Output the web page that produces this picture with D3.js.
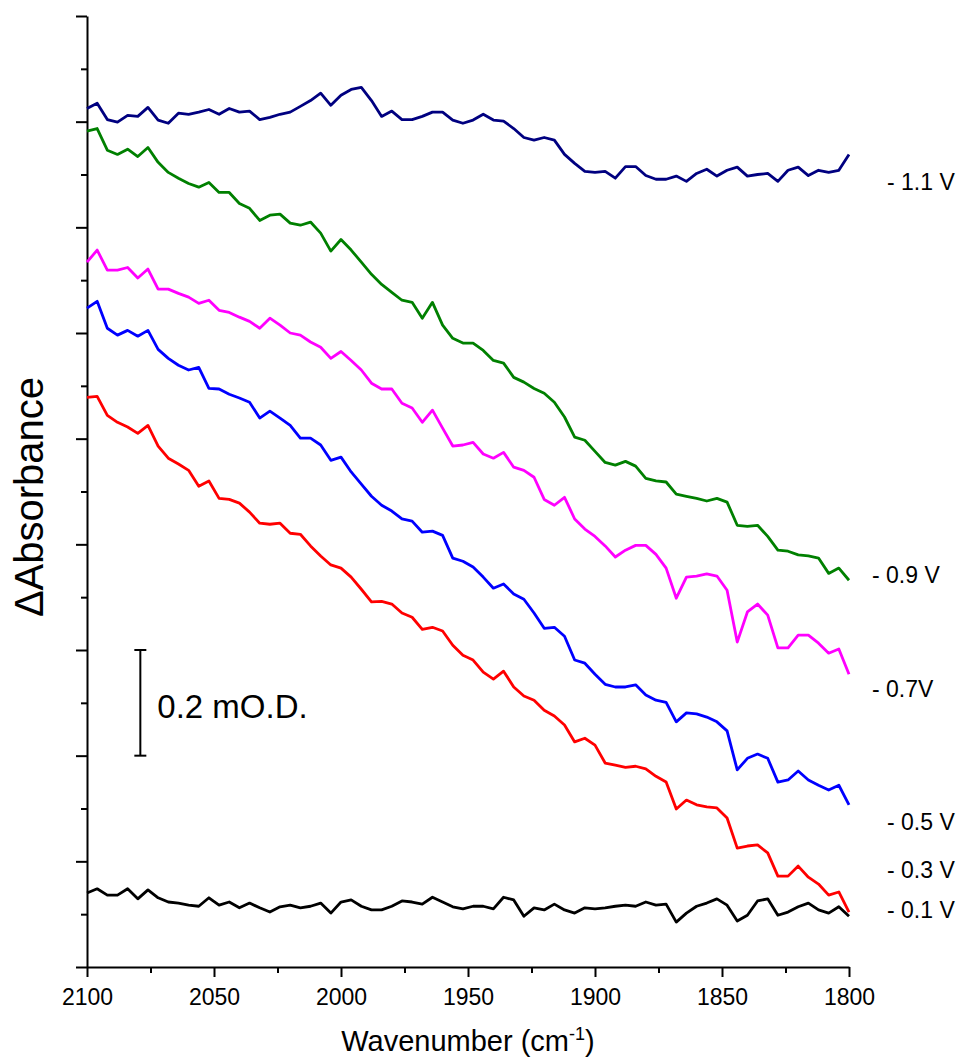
<!DOCTYPE html>
<html>
<head>
<meta charset="utf-8">
<script src="https://cdn.jsdelivr.net/npm/d3@7"></script>
<style>
  body { margin: 0; background: #fff; }
  svg text { font-family: "Liberation Sans", Arial, sans-serif; fill: #000; }
</style>
</head>
<body>
<div id="chart"></div>
<script>
// wavenumber grid (cm-1), read every 4 cm-1 from 2100 down to 1800
const wavenumbers = d3.range(2100, 1799, -4);

// ΔAbsorbance in µOD, traces stacked as in the figure
const v11 = [1625,1635,1604,1599,1612,1610,1627,1603,1597,1616,
  1614,1618,1623,1614,1625,1618,1620,1604,1608,1614,
  1618,1629,1640,1654,1631,1650,1661,1665,1640,1610,
  1620,1604,1604,1610,1618,1618,1603,1597,1603,1614,
  1603,1601,1587,1570,1565,1570,1565,1538,1521,1506,
  1504,1506,1493,1515,1515,1498,1491,1491,1497,1487,
  1502,1510,1497,1508,1514,1497,1500,1502,1487,1508,
  1514,1498,1508,1504,1508,1538];
const v09 = [1582,1587,1546,1538,1548,1534,1551,1523,1504,1493,
  1483,1476,1485,1466,1466,1445,1436,1413,1423,1425,
  1408,1404,1410,1389,1355,1377,1357,1334,1311,1292,
  1277,1262,1258,1228,1258,1215,1190,1181,1181,1167,
  1148,1143,1116,1107,1095,1086,1069,1041,1003,997,
  976,955,950,957,948,925,920,918,895,891,
  887,882,887,880,836,834,836,815,789,787,
  780,778,774,745,755,732];
const v07 = [1334,1357,1319,1319,1324,1304,1321,1283,1283,1275,
  1268,1256,1262,1243,1239,1230,1222,1209,1228,1215,
  1200,1196,1183,1173,1152,1165,1148,1130,1105,1094,
  1094,1067,1058,1031,1054,1020,986,988,993,971,
  963,974,946,940,927,885,874,889,848,829,
  815,797,776,789,798,798,781,755,698,738,
  740,744,740,713,615,672,687,666,604,604,
  628,628,613,594,602,554];
const v05 = [1247,1260,1209,1196,1205,1194,1205,1169,1152,1139,
  1130,1135,1095,1094,1084,1077,1069,1039,1052,1039,
  1025,1001,1001,988,959,965,937,914,891,874,
  863,848,844,823,825,817,774,768,757,738,
  717,725,706,696,670,641,643,626,581,575,
  554,535,530,530,534,515,505,501,464,481,
  479,473,464,447,373,395,403,395,350,354,
  371,354,344,335,344,307];
const v03 = [1078,1080,1044,1031,1022,1010,1025,986,963,952,
  940,910,920,887,885,878,861,840,838,840,
  821,819,797,778,761,755,738,715,691,692,
  687,670,662,639,643,636,609,590,581,558,
  545,560,530,513,505,486,475,458,426,433,
  420,386,382,378,380,375,361,350,299,316,
  307,303,301,282,225,229,231,216,172,172,
  191,170,157,136,142,104];
const v01 = [140,148,136,136,148,129,146,131,123,121,
  117,115,131,117,123,112,121,112,104,114,
  117,112,115,121,102,123,127,115,108,108,
  115,125,123,119,132,123,114,110,115,115,
  110,132,127,96,112,108,119,108,102,112,
  110,112,115,117,115,123,117,119,85,102,
  115,121,129,117,87,98,125,129,98,104,
  114,121,108,102,114,96];

const seriesNames = ['- 1.1 V', '- 0.9 V', '- 0.7V', '- 0.5 V', '- 0.3 V', '- 0.1 V'];
const seriesValues = [v11, v09, v07, v05, v03, v01];
const seriesColors = ['#000080', '#008000', '#ff00ff', '#0000ff', '#ff0000', '#000000'];
// where each potential label sits (µOD) and how far right of the axis end
const labelLevels = [1470, 727, 511, 259, 168, 93];
const labelShift = [38, 23, 23, 38, 38, 38];

// 0.2 mOD scale bar
const scaleBar = { wavenumber: 2079, from: 400, to: 600, text: '0.2 mO.D.' };

const xTicks = [2100, 2050, 2000, 1950, 1900, 1850, 1800];

const width = 958, height = 1057;
const margin = { left: 87, right: 109, top: 16, bottom: 90 };

const svg = d3.select('#chart').append('svg')
  .attr('width', width)
  .attr('height', height);

const x = d3.scaleLinear()
  .domain([2100, 1800])
  .range([margin.left, width - margin.right]);
const y = d3.scaleLinear()
  .domain([0, 1800])
  .range([height - margin.bottom, margin.top]);

// y axis: major every 200, minor every 100, no labels
svg.append('g')
  .attr('transform', 'translate(' + margin.left + ',0)')
  .call(d3.axisLeft(y).tickValues(d3.range(100, 1800, 200)).tickSize(6).tickSizeOuter(0).tickFormat(''))
  .call(g => g.select('.domain').remove());
svg.append('g')
  .attr('transform', 'translate(' + margin.left + ',0)')
  .call(d3.axisLeft(y).tickValues(d3.range(0, 1801, 200)).tickSize(11).tickSizeOuter(0).tickFormat(''));

// x axis: labels every 50, minor ticks every 25
svg.append('g')
  .attr('transform', 'translate(0,' + y(0) + ')')
  .call(d3.axisBottom(x).tickValues([2075, 2025, 1975, 1925, 1875, 1825]).tickSize(6).tickSizeOuter(0).tickFormat(''))
  .call(g => g.select('.domain').remove());
const xAxis = svg.append('g')
  .attr('transform', 'translate(0,' + y(0) + ')')
  .call(d3.axisBottom(x).tickValues(xTicks).tickSize(10).tickSizeOuter(0).tickPadding(12).tickFormat(d3.format('d')));
xAxis.selectAll('text').style('font-size', '23px');

svg.selectAll('.domain, .tick line')
  .attr('stroke', '#000')
  .attr('stroke-width', 2);

// traces
const line = d3.line()
  .x((d, i) => x(wavenumbers[i]))
  .y(d => y(d));

svg.selectAll('.trace')
  .data(seriesValues)
  .enter()
  .append('path')
  .attr('class', 'trace')
  .attr('d', d => line(d))
  .attr('fill', 'none')
  .attr('stroke', (d, i) => seriesColors[i])
  .attr('stroke-width', 2.8)
  .attr('stroke-linejoin', 'round');

// potential labels at the right end
svg.selectAll('.vlabel')
  .data(seriesNames)
  .enter()
  .append('text')
  .attr('class', 'vlabel')
  .attr('x', (d, i) => x(1800) + labelShift[i])
  .attr('y', (d, i) => y(labelLevels[i]))
  .style('font-size', '23px')
  .text(d => d);

// scale bar
const sbx = x(scaleBar.wavenumber);
svg.append('line')
  .attr('x1', sbx).attr('x2', sbx)
  .attr('y1', y(scaleBar.from)).attr('y2', y(scaleBar.to))
  .attr('stroke', '#000').attr('stroke-width', 2);
[scaleBar.from, scaleBar.to].forEach(v => {
  svg.append('line')
    .attr('x1', sbx - 6).attr('x2', sbx + 6)
    .attr('y1', y(v)).attr('y2', y(v))
    .attr('stroke', '#000').attr('stroke-width', 2);
});
svg.append('text')
  .attr('x', sbx + 17)
  .attr('y', y((scaleBar.from + scaleBar.to) / 2) + 15)
  .style('font-size', '33px')
  .text(scaleBar.text);

// axis titles
const xTitle = svg.append('text')
  .attr('x', (x(2100) + x(1800)) / 2)
  .attr('y', 1051)
  .attr('text-anchor', 'middle')
  .style('font-size', '29px');
xTitle.append('tspan').text('Wavenumber (cm');
xTitle.append('tspan').attr('dy', -11).style('font-size', '18px').text('-1');
xTitle.append('tspan').attr('dy', 11).text(')');

svg.append('text')
  .attr('transform', 'translate(43,' + 497 + ') rotate(-90)')
  .attr('text-anchor', 'middle')
  .style('font-size', '40px')
  .text('ΔAbsorbance');
</script>
</body>
</html>
